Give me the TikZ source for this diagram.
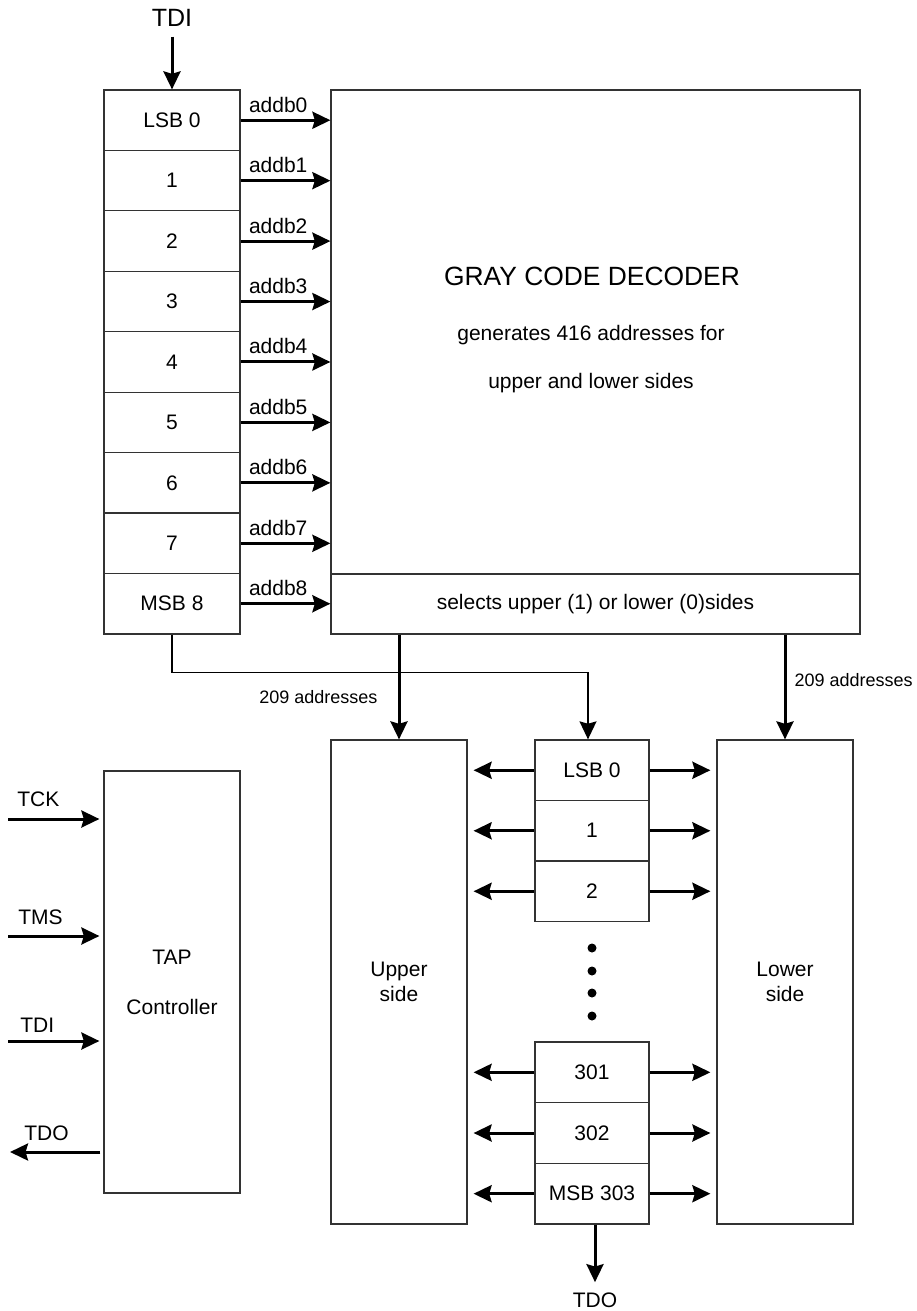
\documentclass[tikz,border=0pt]{standalone}
\usepackage{fontspec}
\setmainfont{Liberation Sans}
\usetikzlibrary{arrows.meta, positioning}

\tikzset{
	box/.style={draw=black!80, line width=0.6pt, rectangle, inner sep=0pt, align=center, font=\fontsize{10.5}{12.6}\selectfont},
	regcell/.style={box, minimum width=68pt, minimum height=30.22pt},
	bitcell/.style={box, minimum width=57pt, minimum height=30.3pt},
	sig/.style={line width=1.5pt, -{Stealth[length=9pt, width=8.5pt, inset=1.2pt]}},
	txt/.style={inner sep=0pt, font=\fontsize{10.5}{12.6}\selectfont},
	smalltxt/.style={inner sep=0pt, font=\fontsize{9}{10.8}\selectfont},
}

\begin{document}
\begin{tikzpicture}[x=0.5pt, y=-0.5pt]
	\useasboundingbox (0,0) rectangle (916,1311);
	% Scan register of the decoder:
	\foreach \i/\t in {0/LSB 0,1/1,2/2,3/3,4/4,5/5,6/6,7/7,8/MSB 8}
		\node[regcell] (L\i) at (172, {90+60.44*(\i+0.5)}) {\t};
	\node[box, minimum width=264.5pt, minimum height=242pt] (dec) at (595.5, 332) {};
	\node[box, minimum width=264.5pt, minimum height=30pt] (sel) at (595.5, 604) {selects upper (1) or lower (0)sides};
	\node[inner sep=0pt, font=\fontsize{13.2}{15.8}\selectfont] (title) at (592, 276) {GRAY CODE DECODER};
	\node[txt, align=center] (gen) at (591, 359) {generates 416 addresses for\\[11.4pt]upper and lower sides};
	\foreach \i in {0,...,8} {
		\draw[sig] (L\i.east) -- (L\i.east -| dec.west);
		\node[txt, anchor=base west] (A\i) at ([xshift=4pt, yshift=4pt]L\i.east) {addb\i};
	}
	\node[font=\fontsize{12.5}{15}\selectfont] (tdiTop) at (172, 18) {TDI};
	\draw[sig, shorten <=1.5pt] (tdiTop.south) -- (L0.north);
	% Lower half: memory sides and bit register:
	\node[box, minimum width=68pt, minimum height=242pt] (upper) at (399, 982) {Upper\\side};
	\node[box, minimum width=68pt, minimum height=242pt] (lower) at (785, 982) {Lower\\side};
	\foreach \n/\y/\t in {0/770.25/LSB 0, 1/830.75/1, 2/891.25/2, 301/1072.3/301, 302/1133/302, 303/1193.7/MSB 303} {
		\node[bitcell] (B\n) at (592, \y) {\t};
		\draw[sig, shorten >=3pt] (B\n.west) -- (B\n.west -| upper.east);
		\draw[sig, shorten >=3pt] (B\n.east) -- (B\n.east -| lower.west);
	}
	\foreach \y in {948, 971, 993, 1016}
		\fill (592, \y) circle (2.25pt);
	\draw[sig] (sel.south -| upper.north) -- (upper.north)
		node[smalltxt, pos=0.6, anchor=east, xshift=-10pt] (addrU) {209 addresses};
	\draw[sig] (sel.south -| lower.north) -- (lower.north)
		node[smalltxt, pos=0.43, anchor=west, xshift=4pt] (addrL) {209 addresses};
	\draw[line width=0.7pt, -{Stealth[length=9pt, width=8.5pt, inset=1.2pt]}] (L8.south) -- ++(0, 38) -| ([xshift=-2pt]B0.north);
	\node[txt, inner sep=3.5pt] (tdoBot) at (595, 1300) {TDO};
	\draw[sig, shorten >=1.5pt] (tdoBot.north |- B303.south) -- (tdoBot.north);
	% TAP controller and its pins:
	\node[box, minimum width=68pt, minimum height=211pt] (tap) at (172, 982) {TAP\\[12.4pt]Controller};
	\coordinate (tck) at (8, 819);
	\coordinate (tms) at (8, 936);
	\coordinate (tdi) at (8, 1041);
	\coordinate (tdo) at (10, 1152);
	\draw[sig, shorten >=2pt] (tck) -- (tck -| tap.west);
	\draw[sig, shorten >=2pt] (tms) -- (tms -| tap.west);
	\draw[sig, shorten >=2pt] (tdi) -- (tdi -| tap.west);
	\draw[sig, shorten <=1.5pt] (tdo -| tap.west) -- (tdo);
	\node[txt, anchor=west] (tckLbl) at (17, 799) {TCK};
	\node[txt, anchor=west] (tmsLbl) at (18, 917) {TMS};
	\node[txt, anchor=west] (tdiLbl) at (20, 1025) {TDI};
	\node[txt, anchor=west] (tdoLbl) at (24, 1133) {TDO};
\end{tikzpicture}
\end{document}
